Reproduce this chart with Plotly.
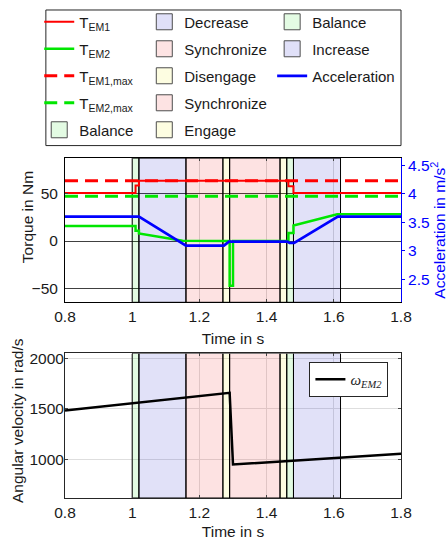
import plotly.graph_objects as go

# ---- data -------------------------------------------------------------
# shift phases (start / end time in s)
phase_name = ["Balance", "Decrease", "Synchronize", "Disengage",
              "Synchronize", "Engage", "Balance", "Increase"]
phase_start = [1.00, 1.02, 1.16, 1.27, 1.29, 1.44, 1.46, 1.48]
phase_end = [1.02, 1.16, 1.27, 1.29, 1.44, 1.46, 1.48, 1.62]

# torque of EM1 (Nm)
t_em1 = [0.80, 1.01, 1.01, 1.02, 1.02, 1.465, 1.465, 1.48, 1.48, 1.80]
T_em1 = [51, 51, 59, 59, 64, 64, 58, 58, 51, 51]

# torque of EM2 (Nm)
t_em2 = [0.80, 1.01, 1.01, 1.02, 1.02, 1.15, 1.29, 1.29, 1.30, 1.30,
         1.465, 1.465, 1.48, 1.48, 1.61, 1.80]
T_em2 = [16, 16, 11, 11, 8, 0.4, 0, -47.5, -47.5, 0,
         0, 8.5, 8.5, 16.5, 28.5, 28.5]

# torque limits (Nm)
t_lim = [0.80, 1.80]
T_em1_max = [64, 64]
T_em2_max = [47.5, 47.5]

# vehicle acceleration (m/s^2)
t_acc = [0.80, 1.02, 1.16, 1.273, 1.288, 1.462, 1.468, 1.482, 1.612, 1.80]
acc = [3.6, 3.6, 3.09, 3.09, 3.16, 3.16, 3.14, 3.14, 3.6, 3.6]

# angular velocity of EM2 (rad/s)
t_w = [0.80, 1.29, 1.30, 1.80]
w_em2 = [1485, 1660, 950, 1055]

x_ticks = [0.8, 1.0, 1.2, 1.4, 1.6, 1.8]
x_ticktext = ["0.8", "1", "1.2", "1.4", "1.6", "1.8"]
torque_ticks = [-50, 0, 50]
acc_ticks = [2.5, 3.0, 3.5, 4.0, 4.5]
acc_ticktext = ["2.5", "3", "3.5", "4", "4.5"]
w_ticks = [1000, 1500, 2000]

# ---- styling ----------------------------------------------------------
FONT = "Liberation Sans, Arial, sans-serif"
TXT = "#1a1a1a"
FS = 15.5
torque_range = [-65, 88]
acc_range = [2.097, 4.626]
w_range = [618, 2049]

# translucent fill in the axes, and its look on white for the legend swatch
phase_fill = {
    "Balance": ("rgba(20,220,20,0.12)", "rgb(227,251,227)"),
    "Decrease": ("rgba(20,20,200,0.13)", "rgb(224,224,248)"),
    "Increase": ("rgba(20,20,200,0.13)", "rgb(224,224,248)"),
    "Synchronize": ("rgba(240,20,20,0.12)", "rgb(253,227,227)"),
    "Disengage": ("rgba(240,240,20,0.13)", "rgb(253,253,225)"),
    "Engage": ("rgba(240,240,20,0.13)", "rgb(253,253,225)"),
}

ROWS = 5
legend_ids = ["legend", "legend2", "legend3"]


def legend_of(idx):
    return legend_ids[idx // ROWS]


fig = go.Figure()

# legend entries run column-major over five rows
line_entries = [
    ("T<sub>EM1</sub>", t_em1, T_em1, dict(color="#ff0000", width=2)),
    ("T<sub>EM2</sub>", t_em2, T_em2, dict(color="#00e600", width=2.5)),
    ("T<sub>EM1,max</sub>", t_lim, T_em1_max, dict(color="#ff0000", width=3, dash="13px,7px")),
    ("T<sub>EM2,max</sub>", t_lim, T_em2_max, dict(color="#00e600", width=3, dash="13px,7px")),
]
entry = len(line_entries)

# phase patches (drawn first, so they sit beneath the curves)
for name, x0, x1 in zip(phase_name, phase_start, phase_end):
    rank = entry
    entry += 1
    fill, swatch = phase_fill[name]
    fig.add_trace(go.Scatter(
        x=[x0, x0, x1, x1, x0],
        y=[torque_range[0], torque_range[1], torque_range[1], torque_range[0], torque_range[0]],
        mode="lines", fill="toself", fillcolor=fill,
        line=dict(color="#000000", width=1),
        showlegend=False, legendgroup=f"g{rank}", hoverinfo="skip",
        xaxis="x", yaxis="y",
    ))
    fig.add_trace(go.Scatter(
        x=[x0, x0, x1, x1, x0],
        y=[w_range[0], w_range[1], w_range[1], w_range[0], w_range[0]],
        mode="lines", fill="toself", fillcolor=fill,
        line=dict(color="#000000", width=1),
        showlegend=False, legendgroup=f"g{rank}", hoverinfo="skip",
        xaxis="x2", yaxis="y3",
    ))
    # legend swatch for the phase
    fig.add_trace(go.Scatter(
        x=[None], y=[None], mode="markers",
        marker=dict(symbol="square", size=16, color=swatch,
                    line=dict(color="#4d4d4d", width=1)),
        name=name, legend=legend_of(rank), legendrank=rank + 1,
        legendgroup=f"g{rank}", xaxis="x", yaxis="y",
    ))

for rank, (name, xs, ys, ln) in enumerate(line_entries):
    fig.add_trace(go.Scatter(
        x=xs, y=ys, mode="lines", line=ln, name=name,
        legend=legend_of(rank), legendrank=rank + 1, legendgroup=f"g{rank}",
        xaxis="x", yaxis="y",
    ))

rank = entry
fig.add_trace(go.Scatter(
    x=t_acc, y=acc, mode="lines", line=dict(color="#0000ff", width=2.7),
    name="Acceleration", legend=legend_of(rank), legendrank=rank + 1,
    legendgroup=f"g{rank}", xaxis="x", yaxis="y2",
))

fig.add_trace(go.Scatter(
    x=t_w, y=w_em2, mode="lines", line=dict(color="#000000", width=2.5),
    name="<i>ω<sub>EM2</sub></i>", legend="legend4",
    xaxis="x2", yaxis="y3",
))

# ---- layout -----------------------------------------------------------
W, H = 448, 542
ML, MR, MT, MB = 65, 44, 5, 44
PW, PH = W - ML - MR, H - MT - MB


def px_x(px):
    return (px - ML) / PW


def px_y(py):
    return (H - MB - py) / PH


axis_common = dict(
    showline=True, linewidth=1, ticks="inside", ticklen=3,
    tickfont=dict(family=FONT, size=FS, color=TXT),
    zeroline=False,
)

legend_common = dict(
    bgcolor="rgba(0,0,0,0)", borderwidth=0, font=dict(family=FONT, size=15, color=TXT),
    itemwidth=30, itemsizing="trace", tracegroupgap=4.5, yanchor="top", xanchor="left",
    itemclick=False, itemdoubleclick=False,
)

ytitle_font = dict(family=FONT, size=FS, color=TXT)

fig.update_layout(
    width=W, height=H,
    margin=dict(l=ML, r=MR, t=MT, b=MB),
    paper_bgcolor="white", plot_bgcolor="white",
    font=dict(family=FONT, size=FS, color=TXT),
    xaxis=dict(
        domain=[0, 1], range=[0.8, 1.8], anchor="y",
        tickvals=x_ticks, ticktext=x_ticktext, mirror="ticks",
        linecolor="#000000", showgrid=True, gridcolor="#d9d9d9",
        title=dict(text="Time in s", standoff=9, font=dict(family=FONT, size=FS, color=TXT)),
        **axis_common,
    ),
    yaxis=dict(
        domain=[px_y(300.7), px_y(155.3)], range=torque_range, anchor="x",
        tickvals=torque_ticks, linecolor="#000000", mirror=False,
        showgrid=True, gridcolor="#404040", gridwidth=1, ticklabelstandoff=3,
        **axis_common,
    ),
    yaxis2=dict(
        overlaying="y", side="right", anchor="x", range=acc_range,
        tickvals=acc_ticks, ticktext=acc_ticktext, showgrid=False,
        showline=True, linecolor="#0000ff", linewidth=1,
        ticks="outside", ticklen=3, tickcolor="#0000ff", zeroline=False,
        tickfont=dict(family=FONT, size=FS, color="#0000ff"),
        title=dict(text="Acceleration in m/s<sup>2</sup>", standoff=2,
                   font=dict(family=FONT, size=FS, color="#0000ff")),
    ),
    xaxis2=dict(
        domain=[0, 1], range=[0.8, 1.8], anchor="y3",
        tickvals=x_ticks, ticktext=x_ticktext, mirror="ticks",
        linecolor="#262626", showgrid=True, gridcolor="#dedede",
        title=dict(text="Time in s", standoff=6, font=dict(family=FONT, size=FS, color=TXT)),
        **axis_common,
    ),
    yaxis3=dict(
        domain=[0, px_y(352.3)], range=w_range, anchor="x2",
        tickvals=w_ticks, mirror="ticks", linecolor="#262626",
        showgrid=True, gridcolor="#dedede", ticklabelstandoff=-3,
        **axis_common,
    ),
    annotations=[
        dict(text="Torque in Nm", textangle=-90, xref="paper", yref="paper",
             x=px_x(26.5), y=px_y(215), xanchor="center", yanchor="middle",
             showarrow=False, font=ytitle_font),
        dict(text="Angular velocity in rad/s", textangle=-90, xref="paper", yref="paper",
             x=px_x(17), y=px_y(420), xanchor="center", yanchor="middle",
             showarrow=False, font=ytitle_font),
    ],
    legend=dict(x=px_x(39), y=px_y(1.5), **legend_common),
    legend2=dict(x=px_x(145), y=px_y(1.5), **legend_common),
    legend3=dict(x=px_x(274), y=px_y(1.5), **legend_common),
    legend4=dict(
        x=px_x(391.3), y=px_y(361), xanchor="right", yanchor="top",
        bgcolor="white", bordercolor="#262626", borderwidth=1,
        font=dict(family="Liberation Serif, serif", size=15, color=TXT),
        itemwidth=30, itemclick=False, itemdoubleclick=False,
    ),
    shapes=[dict(
        type="rect", xref="paper", yref="paper",
        x0=px_x(45.7), x1=px_x(404), y0=px_y(142.7), y1=px_y(6),
        line=dict(color="#262626", width=1), fillcolor="rgba(0,0,0,0)",
    )],
    showlegend=True,
)

fig.write_html("out.html")
